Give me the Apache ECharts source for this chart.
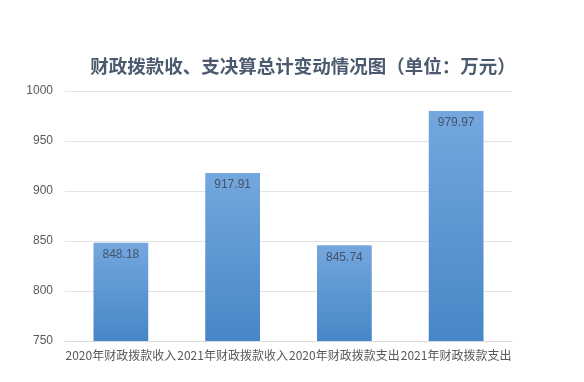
<!DOCTYPE html>
<html><head><meta charset="utf-8">
<script src="https://cdn.jsdelivr.net/npm/echarts@6/dist/echarts.min.js"></script>
<style>html,body{margin:0;padding:0;background:#fff}#c{width:584px;height:382px}</style>
</head><body><div id="c"></div>
<script>
const categories = ['2020年财政拨款收入','2021年财政拨款收入','2020年财政拨款支出','2021年财政拨款支出'];
const values = [848.18, 917.91, 845.74, 979.97];
const yTicks = [750, 800, 850, 900, 950, 1000];
const titleText = '财政拨款收、支决算总计变动情况图（单位：万元）';

const chart = echarts.init(document.getElementById('c'));
chart.setOption({
  animation: false,
  backgroundColor: '#fff',
  title: {
    text: titleText, left: 298, top: 52, textAlign: 'center',
    textStyle: {fontFamily: 'Noto Sans CJK SC', fontSize: 18.5, fontWeight: 'bold', color: '#4b5a6e'}
  },
  grid: {left: 65, right: 72, top: 91, bottom: 41},
  xAxis: {
    type: 'category', data: categories,
    axisLine: {lineStyle: {color: '#d9d9d9'}},
    axisTick: {show: false},
    axisLabel: {color: '#595959', fontSize: 12, fontFamily: 'Noto Sans CJK SC', margin: 8, interval: 0}
  },
  yAxis: {
    type: 'value', min: yTicks[0], max: yTicks[yTicks.length-1], interval: 50,
    axisLine: {show: false}, axisTick: {show: false},
    splitLine: {lineStyle: {color: '#e3e3e3'}},
    axisLabel: {color: '#595959', fontSize: 12, fontFamily: 'Liberation Sans', margin: 12, formatter: v => String(v)}
  },
  series: [{
    type: 'bar', data: values, barWidth: '49%',
    itemStyle: {color: new echarts.graphic.LinearGradient(0,0,0,1,[{offset:0,color:'#74a7de'},{offset:1,color:'#4787c7'}])},
    label: {show: true, position: 'insideTop', distance: 6, color: '#44546a', fontSize: 12, fontFamily: 'Liberation Sans',
      formatter: p => p.value.toFixed(2)}
  }]
});
</script></body></html>
